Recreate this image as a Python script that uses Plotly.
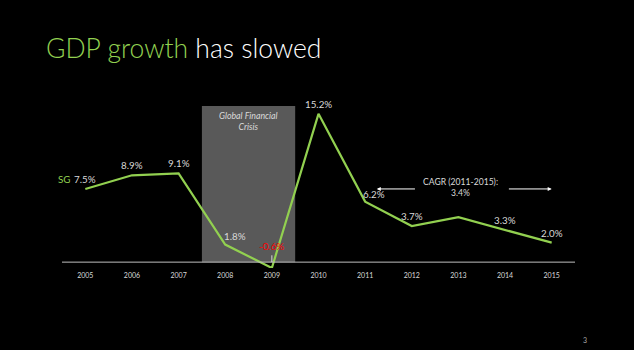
import plotly.graph_objects as go

years = ["2005", "2006", "2007", "2008", "2009", "2010", "2011", "2012", "2013", "2014", "2015"]
gdp_growth = [7.5, 8.9, 9.1, 1.8, -0.6, 15.2, 6.2, 3.7, 4.6, 3.3, 2.0]
labelled = [True, True, True, True, True, True, True, True, False, True, True]
series_name = "SG"
crisis_years = ["2008", "2009"]
cagr_text = "CAGR (2011-2015):<br>3.4%"

GREEN = "#92D050"
LABEL = "#D9D9D9"
FONT = "Lato"

fig = go.Figure()
fig.add_trace(go.Scatter(x=list(range(len(years))), y=gdp_growth, mode="lines",
                         line=dict(color=GREEN, width=2.2), cliponaxis=False,
                         hoverinfo="skip"))

i0 = years.index(crisis_years[0])
i1 = years.index(crisis_years[-1])
fig.add_shape(type="rect", x0=i0 - 0.5, x1=i1 + 0.5, y0=0, y1=16,
              xref="x", yref="y", fillcolor="#595959", line=dict(width=0), layer="below")
fig.add_annotation(x=(i0 + i1) / 2, y=16, xref="x", yref="y", yanchor="top", yshift=-2,
                   text="<i>Global Financial<br>Crisis</i>", showarrow=False,
                   font=dict(family=FONT, size=8.8, color=LABEL))

# axis line at zero
fig.add_shape(type="line", x0=-0.5, x1=len(years) - 0.5, y0=0, y1=0,
              xref="x", yref="y", line=dict(color="#BFBFBF", width=1))

offsets = {0: (0, 10), 3: (10, 9), 4: (0, 22), 6: (9, 8), 7: (0, 10), 9: (0, 10), 10: (0, 10)}
for i, (yr, v, lab) in enumerate(zip(years, gdp_growth, labelled)):
    if not lab:
        continue
    dx, dy = offsets.get(i, (0, 10))
    col = "#FF0000" if v < 0 else LABEL
    fig.add_annotation(x=i, y=v, xref="x", yref="y", text=f"{v:.1f}%", showarrow=False,
                       xshift=dx, yshift=dy, font=dict(family=FONT, size=9.8, color=col))

fig.add_annotation(x=0, y=gdp_growth[0], xref="x", yref="y", text=series_name, showarrow=False,
                   xshift=-21, yshift=10, font=dict(family=FONT, size=9.8, color=GREEN))

# leader for negative value
neg = gdp_growth.index(min(gdp_growth))
fig.add_shape(type="line", x0=neg, x1=neg, y0=0.0, y1=0.7, xref="x", yref="y",
              line=dict(color=LABEL, width=1))

# CAGR annotation
fig.add_annotation(x=8.05, y=7.6, xref="x", yref="y", text=cagr_text, showarrow=False,
                   font=dict(family=FONT, size=8.6, color=LABEL))
fig.add_annotation(x=6.25, y=7.5, ax=7.1, ay=7.5, xref="x", yref="y", axref="x", ayref="y",
                   text="", showarrow=True, arrowhead=2, arrowsize=0.8, arrowwidth=1,
                   arrowcolor="white")
fig.add_annotation(x=10.0, y=7.5, ax=9.05, ay=7.5, xref="x", yref="y", axref="x", ayref="y",
                   text="", showarrow=True, arrowhead=2, arrowsize=0.8, arrowwidth=1,
                   arrowcolor="white")

# title
fig.add_annotation(xref="paper", yref="paper", x=-0.036, y=1.0, yanchor="bottom", xanchor="left",
                   yshift=40,
                   text=f"<span style='color:{GREEN}'>GDP growth</span> has slowed",
                   showarrow=False, font=dict(family=FONT, size=26.5, color="white", weight=300))

# page number
fig.add_annotation(xref="paper", yref="paper", x=1.028, y=0, yshift=-78, text="3", showarrow=False,
                   font=dict(family=FONT, size=7, color="#A6A6A6"))

fig.update_layout(
    width=634, height=350, margin=dict(l=62, r=59, t=106, b=81.5),
    paper_bgcolor="black", plot_bgcolor="black", showlegend=False,
    xaxis=dict(range=[-0.5, len(years) - 0.5], tickvals=list(range(len(years))), ticktext=years,
               showgrid=False, zeroline=False, showline=False, ticks="", ticklabelstandoff=2,
               tickfont=dict(family=FONT, size=7, color=LABEL)),
    yaxis=dict(range=[-0.6, 16], visible=False, showgrid=False, zeroline=False),
)
fig.write_html("out.html")
